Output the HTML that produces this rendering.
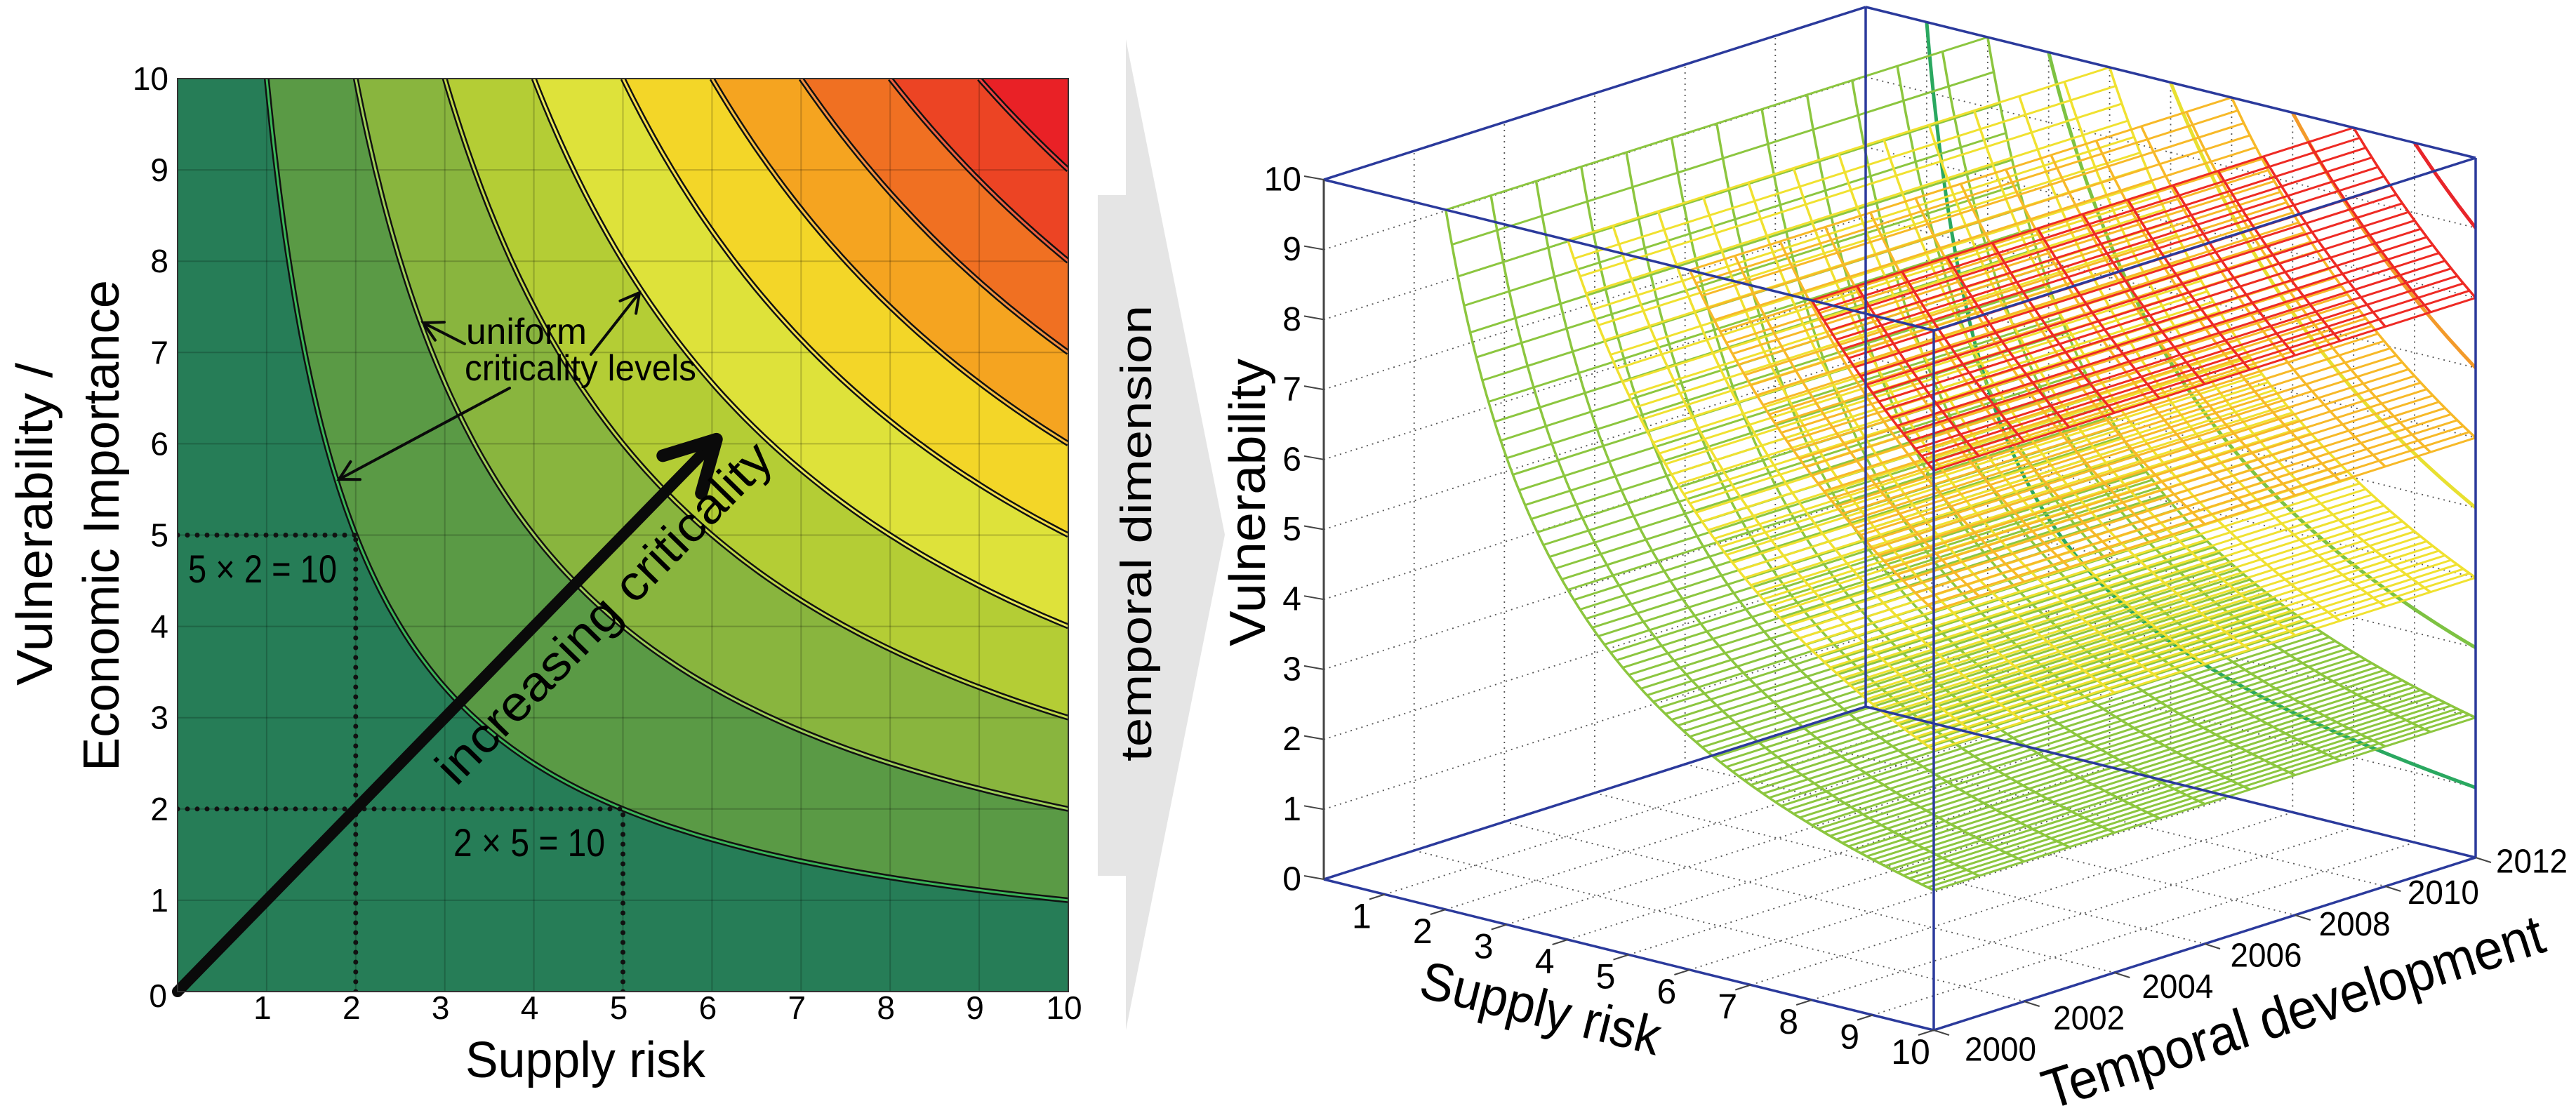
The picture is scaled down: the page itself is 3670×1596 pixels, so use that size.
<!DOCTYPE html>
<html><head><meta charset="utf-8"><title>Criticality matrix with temporal dimension</title>
<style>
html,body{margin:0;padding:0;background:#fff;}
svg{display:block;}
text{font-family:"Liberation Sans",sans-serif;}
</style></head>
<body>
<svg id="fig" width="3670" height="1596" viewBox="0 0 3670 1596" xmlns="http://www.w3.org/2000/svg">
  <defs>
    <clipPath id="leftClip"><rect x="253" y="112" width="1269" height="1301"/></clipPath>
  </defs>
  <g id="left"></g>
  <polygon points="1564,278 1604,278 1604,56 1745,762 1604,1468 1604,1248 1564,1248" fill="#e5e5e5"/>
  <text transform="translate(1640,760) rotate(-90)" text-anchor="middle" font-size="62" textLength="650" lengthAdjust="spacingAndGlyphs">temporal dimension</text>
  <g id="right"></g>
</svg>
<script>
// ---------- data ----------
const criticalityLevels = [10,20,30,40,50,60,70,80,90];
const bandColors = ["#267d57","#5a9a45","#89b53e","#b4cd35","#dee23a","#f3d628","#f5a420","#f07022","#ec4424","#e92126"];
const contourInner = ["#3cb55a","#9fcf5a","#c0d84a","#eaea5a","#f7e04a","#f8c040","#f59040","#f06040","#f04040"];
const axisTicks = [0,1,2,3,4,5,6,7,8,9,10];
const arrowTip = [6.05, 6.05];
const example1 = [2, 5];   // supply risk 2, vulnerability 5
const example2 = [5, 2];   // supply risk 5, vulnerability 2
const meshLevels = [20,40,60,80];
const meshColors = ["#8cc63f","#f0e130","#f7b928","#ee2a24"];
const curveLevels = [10,30,50,70,90];
const curveColors = ["#2aa860","#7dc242","#e8e030","#f39a2a","#e8252a"];
const yearTicks = [2000,2002,2004,2006,2008,2010,2012];
const yearStart = 2000, yearEnd = 2012;

const NS = "http://www.w3.org/2000/svg";
function mk(tag, attrs, parent){
  const el = document.createElementNS(NS, tag);
  for (const k in attrs) el.setAttribute(k, attrs[k]);
  parent.appendChild(el);
  return el;
}

// ---------- left 2D panel ----------
const left = document.getElementById("left");
const sx = s => 253 + s*126.9;
const sy = v => 1413 - v*130.1;

const cg = mk("g", {"clip-path":"url(#leftClip)"}, left);


let bg = mk("rect", {x:253,y:112,width:1269,height:1301,fill:bandColors[9]}, cg);



function curvePts(C){
  const pts=[]; const a=Math.max(C/10,0.01), b=10, n=120;
  for(let i=0;i<=n;i++){ const s=a*Math.pow(b/a,i/n); pts.push([s, C/s]); }
  return pts;
}
for(let i=criticalityLevels.length-1;i>=0;i--){
  const C=criticalityLevels[i];
  const pts=curvePts(C);
  let d=`M${sx(0)},${sy(0)} L${sx(0)},${sy(10)} `;
  pts.forEach(p=>{ d+=`L${sx(p[0]).toFixed(1)},${sy(p[1]).toFixed(1)} `; });
  d+=`L${sx(10)},${sy(0)} Z`;
  const band = mk("path",{d:d, fill:bandColors[i]}, cg);
  
  
}
// grid
axisTicks.forEach(t=>{
  if(t===0||t===10) return;
  const gx = mk("line",{x1:sx(t),y1:sy(0),x2:sx(t),y2:sy(10),stroke:"rgba(0,0,0,0.2)","stroke-width":2}, cg);
  
  
  const gy = mk("line",{x1:sx(0),y1:sy(t),x2:sx(10),y2:sy(t),stroke:"rgba(0,0,0,0.2)","stroke-width":2}, cg);
  
  
});
// contour lines
criticalityLevels.forEach((C,i)=>{
  const pts=curvePts(C);
  const d="M"+pts.map(p=>sx(p[0]).toFixed(1)+","+sy(p[1]).toFixed(1)).join(" L");
  const o = mk("path",{d:d,fill:"none",stroke:"#111","stroke-width":8}, cg);
  
  
  const inn = mk("path",{d:d,fill:"none",stroke:contourInner[i],"stroke-width":3}, cg);
  
  
});
// dotted example lines
[example1, example2].forEach(ex=>{
  const h = mk("line",{x1:sx(0),y1:sy(ex[1]),x2:sx(ex[0]),y2:sy(ex[1]),stroke:"#111","stroke-width":7,"stroke-linecap":"round","stroke-dasharray":"0 14"}, cg);
  
  
  const v = mk("line",{x1:sx(ex[0]),y1:sy(0),x2:sx(ex[0]),y2:sy(ex[1]),stroke:"#111","stroke-width":7,"stroke-linecap":"round","stroke-dasharray":"0 14"}, cg);
  
  
});
// main arrow
const ax0=sx(0), ay0=sy(0), ax1=sx(arrowTip[0]), ay1=sy(arrowTip[1]);
const mainArrow = mk("line",{x1:ax0,y1:ay0,x2:ax1,y2:ay1,stroke:"#0a0a0a","stroke-width":16,"stroke-linecap":"round"}, left);


{
  const ang=Math.atan2(ay1-ay0, ax1-ax0), L=80, sp=0.5;
  const d=`M${ax1-L*Math.cos(ang-sp)},${ay1-L*Math.sin(ang-sp)} L${ax1},${ay1} L${ax1-L*Math.cos(ang+sp)},${ay1-L*Math.sin(ang+sp)}`;
  const head = mk("path",{d:d,fill:"none",stroke:"#0a0a0a","stroke-width":18,"stroke-linecap":"round","stroke-linejoin":"round"}, left);
  
  
}
// frame
const frame = mk("rect",{x:253,y:112,width:1269,height:1301,fill:"none",stroke:"#333","stroke-width":2}, left);


// tick labels
axisTicks.forEach(t=>{
  const yl = mk("text",{x:t===0?238:240,y:t===0?sy(t)+6:sy(t),"text-anchor":"end","dominant-baseline":"central","font-size":46}, left);
  yl.textContent = t;
  
  
  if(t>0){
    const xl = mk("text",{x:sx(t)-6,y:1452,"text-anchor":"middle","font-size":46}, left);
    xl.textContent = t;
    
    
  }
});
</script>
<script>
// annotations for left panel (static text)
(function(){
  const left=document.getElementById("left");
  const NS="http://www.w3.org/2000/svg";
  function t(attrs, txt){ const e=document.createElementNS(NS,"text"); for(const k in attrs)e.setAttribute(k,attrs[k]); e.textContent=txt; left.appendChild(e); return e; }
  let e;
  e=t({transform:"translate(74,747) rotate(-90)","text-anchor":"middle","font-size":72,textLength:460,lengthAdjust:"spacingAndGlyphs"},"Vulnerability /");
  
  
  e=t({transform:"translate(169,749) rotate(-90)","text-anchor":"middle","font-size":72,textLength:700,lengthAdjust:"spacingAndGlyphs"},"Economic Importance");
  
  
  e=t({x:834,y:1535,"text-anchor":"middle","font-size":72,textLength:342,lengthAdjust:"spacingAndGlyphs"},"Supply risk");
  
  
  e=t({transform:"translate(650,1122) rotate(-45.6)","font-size":70,textLength:650,lengthAdjust:"spacingAndGlyphs"},"increasing criticality");
  
  
  e=t({x:664,y:490,"font-size":52,textLength:172,lengthAdjust:"spacingAndGlyphs"},"uniform");
  
  
  e=t({x:662,y:542,"font-size":52,textLength:330,lengthAdjust:"spacingAndGlyphs"},"criticality levels");
  
  
  e=t({x:268,y:830,"font-family":"Liberation Serif, serif","font-size":56,textLength:212,lengthAdjust:"spacingAndGlyphs"},"5 × 2 = 10");
  
  
  e=t({x:646,y:1220,"font-family":"Liberation Serif, serif","font-size":56,textLength:216,lengthAdjust:"spacingAndGlyphs"},"2 × 5 = 10");
  
  
  const arrows=[[662,490,603,460],[842,505,911,417],[726,553,483,683]];
  arrows.forEach(a=>{
    const ang=Math.atan2(a[3]-a[1],a[2]-a[0]), L=30, sp=0.5;
    const p=document.createElementNS(NS,"path");
    p.setAttribute("d",`M${a[0]},${a[1]} L${a[2]},${a[3]} M${a[2]-L*Math.cos(ang-sp)},${a[3]-L*Math.sin(ang-sp)} L${a[2]},${a[3]} L${a[2]-L*Math.cos(ang+sp)},${a[3]-L*Math.sin(ang+sp)}`);
    p.setAttribute("fill","none"); p.setAttribute("stroke","#0a0a0a"); p.setAttribute("stroke-width","4"); p.setAttribute("stroke-linecap","round");
    
    
    left.appendChild(p);
  });
})();
</script>
<script>
// ---------- right 3D panel ----------
(function(){
const right = document.getElementById("right");
function P(s,t,v){
  const f=(t-yearStart)/(yearEnd-yearStart);
  return [1886 + s*86.9 + f*772, 1253 + s*21.5 - f*246 - v*99.7];
}
function line(a,b,attrs){
  const el=mk("line",Object.assign({x1:a[0].toFixed(1),y1:a[1].toFixed(1),x2:b[0].toFixed(1),y2:b[1].toFixed(1)},attrs),right);
  return el;
}
const gridStyle={stroke:"#555","stroke-width":1.8,"stroke-dasharray":"2 6"};
axisTicks.forEach(v=>{ const e=line(P(0,yearStart,v),P(0,yearEnd,v),gridStyle);
  
   });
yearTicks.forEach(y=>{ const e=line(P(0,y,0),P(0,y,10),gridStyle);
  
   });
axisTicks.forEach(v=>{ const e=line(P(0,yearEnd,v),P(10,yearEnd,v),gridStyle);
  
   });
axisTicks.forEach(s=>{ const e=line(P(s,yearEnd,0),P(s,yearEnd,10),gridStyle);
  
   });
axisTicks.forEach(s=>{ const e=line(P(s,yearStart,0),P(s,yearEnd,0),gridStyle);
  
   });
yearTicks.forEach(y=>{ const e=line(P(0,y,0),P(10,y,0),gridStyle);
  
   });

curveLevels.forEach((C,i)=>{
  let d=""; const a=C/10, n=60;
  for(let k=0;k<=n;k++){ const s=a*Math.pow(10/a,k/n); const p=P(s,yearEnd,C/s); d+=(k?"L":"M")+p[0].toFixed(1)+","+p[1].toFixed(1)+" "; }
  const e=mk("path",{d:d,fill:"none",stroke:curveColors[i],"stroke-width":5},right);
  
  
});
meshLevels.forEach((C,i)=>{
  const g=mk("g",{stroke:meshColors[i],"stroke-width":3,fill:"none"},right);
  
  
  const a=C/10;
  let d="";
  for(let s=a; s<=10.0001; s+=0.1){
    const p1=P(s,yearStart,C/s), p2=P(s,yearEnd,C/s);
    d+=`M${p1[0].toFixed(1)},${p1[1].toFixed(1)} L${p2[0].toFixed(1)},${p2[1].toFixed(1)} `;
  }
  const tl=mk("path",{d:d},g);
  
  
  let d2="";
  for(let y=yearStart; y<=yearEnd; y+=1){
    const n=50;
    for(let k=0;k<=n;k++){ const s=a*Math.pow(10/a,k/n); const p=P(s,y,C/s); d2+=(k?"L":"M")+p[0].toFixed(1)+","+p[1].toFixed(1)+" "; }
  }
  const cl=mk("path",{d:d2,"stroke-width":3.5},g);
  
  
});
const blue={stroke:"#2b3a9c","stroke-width":3.5};
const c=(s,t,v)=>P(s,t,v);
const edges=[
 [c(0,yearStart,0),c(10,yearStart,0)],[c(10,yearStart,0),c(10,yearEnd,0)],[c(0,yearStart,0),c(0,yearEnd,0)],[c(0,yearEnd,0),c(10,yearEnd,0)],
 [c(0,yearStart,10),c(10,yearStart,10)],[c(10,yearStart,10),c(10,yearEnd,10)],[c(0,yearStart,10),c(0,yearEnd,10)],[c(0,yearEnd,10),c(10,yearEnd,10)],
 [c(10,yearStart,0),c(10,yearStart,10)],[c(10,yearEnd,0),c(10,yearEnd,10)],[c(0,yearEnd,0),c(0,yearEnd,10)]
];
edges.forEach(e=>{ const el=line(e[0],e[1],blue);
  
   });
const vax=line(c(0,yearStart,0),c(0,yearStart,10),{stroke:"#444","stroke-width":3});


axisTicks.forEach(v=>{
  const p=P(0,yearStart,v);
  const tk=line([p[0]-28,p[1]-5],p,{stroke:"#444","stroke-width":2});
  
  
  const lb=mk("text",{x:p[0]-32,y:p[1],"text-anchor":"end","dominant-baseline":"central","font-size":48},right);
  lb.textContent=v;
  
  
});
axisTicks.forEach(s=>{
  if(s===0) return;
  const p=P(s,yearStart,0);
  const tk=line(p,[p[0]-22,p[1]+7],{stroke:"#444","stroke-width":2});
  
  
  const lb=mk("text",{x:p[0]-33,y:p[1]+31,"text-anchor":"middle","dominant-baseline":"central","font-size":50},right);
  lb.textContent=s;
  
  
});
yearTicks.forEach(y=>{
  const p=P(10,y,0), f=(y-yearStart)/(yearEnd-yearStart);
  const tk=line(p,[p[0]+22,p[1]+7],{stroke:"#444","stroke-width":2});
  
  
  const lb=mk("text",{x:p[0]+44-15*f,y:p[1]+28-22*f,"dominant-baseline":"central","font-size":48,textLength:102,lengthAdjust:"spacingAndGlyphs"},right);
  lb.textContent=y;
  
  
});
let tt=mk("text",{transform:"translate(1802,716) rotate(-90)","text-anchor":"middle","font-size":72,textLength:410,lengthAdjust:"spacingAndGlyphs"},right);
tt.textContent="Vulnerability";


tt=mk("text",{transform:"translate(2195,1437) rotate(13.9)","text-anchor":"middle","dominant-baseline":"central","font-size":76,textLength:350,lengthAdjust:"spacingAndGlyphs"},right);
tt.textContent="Supply risk";


tt=mk("text",{transform:"translate(3267,1442) rotate(-17.7)","text-anchor":"middle","dominant-baseline":"central","font-size":80,textLength:745,lengthAdjust:"spacingAndGlyphs"},right);
tt.textContent="Temporal development";


})();
</script>
</body></html>
